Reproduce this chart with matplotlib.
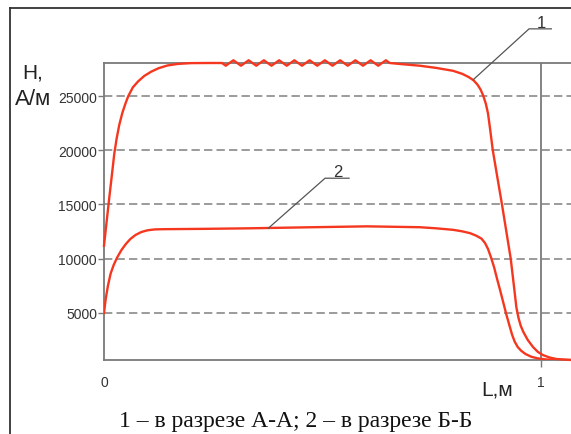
import matplotlib.pyplot as plt
from matplotlib.lines import Line2D

# curve 1 (section A-A): rise, flat top, drop
c1_left_L = [0.0, 0.006, 0.012, 0.018, 0.0236, 0.029, 0.035, 0.042, 0.049, 0.0556,
             0.066, 0.078, 0.092, 0.108, 0.125, 0.145, 0.170, 0.200, 0.240, 0.270]
c1_left_H = [11200, 13400, 15600, 17700, 19700, 21100, 22350, 23450, 24300, 25000,
             25800, 26350, 26850, 27250, 27570, 27820, 27970, 28040, 28050, 28050]

# wavy stretch on top of curve 1 (crests and troughs)
wave_L = [0.2787, 0.2962, 0.3136, 0.3311, 0.3485, 0.3660, 0.3834, 0.4009, 0.4183,
          0.4358, 0.4532, 0.4707, 0.4881, 0.5056, 0.5230, 0.5405, 0.5579, 0.5754,
          0.5928, 0.6103, 0.6277, 0.6452, 0.6540]
wave_H = [27800, 28300, 27800, 28300, 27800, 28300, 27800, 28300, 27800,
          28300, 27800, 28300, 27800, 28300, 27800, 28300, 27800, 28300,
          27800, 28300, 27800, 28300, 28050]

c1_right_L = [0.680, 0.723, 0.760, 0.799, 0.820, 0.835, 0.846, 0.855, 0.862, 0.868,
              0.874, 0.879, 0.884, 0.890, 0.900, 0.911, 0.921, 0.931, 0.938, 0.944,
              0.949, 0.954, 0.960, 0.970, 0.982, 0.993, 1.005, 1.020, 1.036, 1.069]
c1_right_H = [27950, 27800, 27600, 27330, 27050, 26750, 26450, 26050, 25600, 25050,
              24300, 23400, 21900, 20000, 17600, 15000, 12500, 10000, 7600, 5500,
              4500, 3800, 3230, 2500, 1850, 1400, 1100, 880, 740, 650]

# curve 2 (section B-B)
c2_L = [0.0, 0.004, 0.009, 0.015, 0.022, 0.030, 0.040, 0.050, 0.060, 0.072, 0.085,
        0.100, 0.117, 0.140, 0.231, 0.334, 0.449, 0.602, 0.723, 0.760, 0.799, 0.820,
        0.838, 0.852, 0.864, 0.872, 0.879, 0.886, 0.893, 0.900, 0.907, 0.914, 0.921,
        0.928, 0.934, 0.940, 0.947, 0.955, 0.965, 0.978, 0.993, 1.012, 1.035, 1.069]
c2_H = [5000, 6300, 7500, 8600, 9400, 10100, 10800, 11350, 11800, 12180, 12450,
        12620, 12700, 12720, 12750, 12800, 12880, 12980, 12900, 12800, 12660, 12520,
        12350, 12120, 11850, 11450, 10900, 10100, 9200, 8100, 7050, 5950, 4850,
        3850, 3000, 2350, 1850, 1500, 1200, 950, 800, 700, 660, 650]

# leader lines for the curve numbers
lead1_L = [0.845, 0.973, 1.024]
lead1_H = [26500, 31200, 31200]
lead2_L = [0.376, 0.506, 0.561]
lead2_H = [12800, 17420, 17420]

yticks = [5000, 10000, 15000, 20000, 25000]
xticks = [0, 1]

red = '#f5371f'
grey = '#7a7a7a'

fig = plt.figure(figsize=(5.71, 4.35), dpi=100)
ax = fig.add_axes([104 / 571, 74 / 435, 1 - 104 / 571, 297 / 435])

for v in yticks:
    ax.axhline(v, color='#8a8a8a', lw=1.2, ls=(0, (5, 2.5)), zorder=1)
ax.axvline(1, color=grey, lw=1.3, zorder=1)

c1_L = c1_left_L + wave_L + c1_right_L
c1_H = c1_left_H + wave_H + c1_right_H
ax.plot(c1_L, c1_H, color=red, lw=1.7, solid_joinstyle='round', clip_on=False, zorder=3)
ax.plot(c2_L, c2_H, color=red, lw=1.7, solid_joinstyle='round', zorder=3)

ax.plot(lead1_L, lead1_H, color='#555555', lw=0.9, clip_on=False, zorder=4)
ax.plot(lead2_L, lead2_H, color='#555555', lw=0.9, clip_on=False, zorder=4)
ax.text(1.002, 31400, '1', fontsize=12, family='Liberation Sans', color='#333333',
        ha='center', va='baseline')
ax.text(0.535, 17620, '2', fontsize=12, family='Liberation Sans', color='#333333',
        ha='center', va='baseline')

ax.set_xlim(0, 1.069)
ax.set_ylim(650, 28050)
ax.set_yticks(yticks)
ax.set_yticklabels([str(v) for v in yticks], family='Liberation Sans', fontsize=10,
                   color='#333333')
ax.set_xticks(xticks)
ax.set_xticklabels(['0', '1'], family='Liberation Sans', fontsize=10, color='#333333')
ax.tick_params(axis='y', length=4, width=1, color=grey, pad=1)
ax.tick_params(axis='x', length=5, width=1, color=grey, pad=6)
ax.xaxis.get_major_ticks()[0].tick1line.set_visible(False)
for side in ['left', 'bottom', 'top']:
    ax.spines[side].set_color(grey)
    ax.spines[side].set_linewidth(1.3)
ax.spines['right'].set_visible(False)

fig.text(0.058, 0.832, 'H,', fontsize=15, family='Liberation Sans', color='#222222',
         ha='center', va='center')
fig.text(0.058, 0.772, 'А/м', fontsize=16, family='Liberation Sans', color='#222222',
         ha='center', va='center')
fig.text(0.870, 0.103, 'L,м', fontsize=15, family='Liberation Sans', color='#222222',
         ha='center', va='center')
fig.text(0.518, 0.030, '1 – в разрезе А-А; 2 – в разрезе Б-Б', fontsize=17,
         family='Liberation Serif', color='#111111', ha='center', va='center')

# outer frame (left and top edges)
fig.add_artist(Line2D([10 / 571, 10 / 571], [0, 1 - 9 / 435], color='#333333', lw=1.3))
fig.add_artist(Line2D([10 / 571, 1], [1 - 9 / 435, 1 - 9 / 435], color='#333333', lw=1.3))

fig.savefig('out.png', dpi=100)
